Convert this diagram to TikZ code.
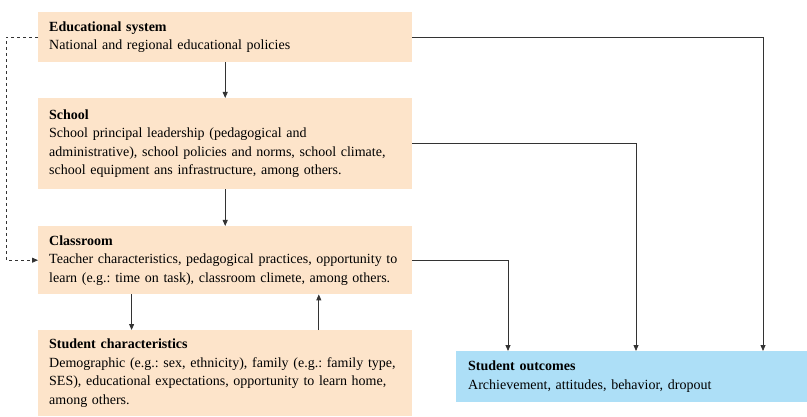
\documentclass[tikz,border=0pt]{standalone}
\usepackage{fontspec}
\setmainfont{Liberation Serif}
\usetikzlibrary{positioning,arrows.meta,calc}
\definecolor{boxorange}{HTML}{FDE4CA}
\definecolor{boxblue}{HTML}{ADDFF7}
\definecolor{linegray}{HTML}{333333}
\frenchspacing
\tikzset{
  factor/.style={fill=boxorange, anchor=north west, text width=352pt, inner xsep=11pt,
    inner ysep=0pt, align=left, font=\fontsize{14}{18.5}\selectfont},
  outcome/.style={factor, fill=boxblue, text width=327pt, inner xsep=12pt},
  link/.style={draw=linegray, line width=0.8pt, -{Triangle[length=6pt,width=5pt]}}
}
\begin{document}
\begin{tikzpicture}[x=1pt,y=-1pt]
	\useasboundingbox (0,0) rectangle (807,417);

	\node[factor, minimum height=50pt] (edu) at (38,12)
	    {\textbf{Educational system}\\National and regional educational policies};
	\node[factor, minimum height=91pt] (school) at (38,98)
	    {\textbf{School}\\School principal leadership (pedagogical and\\administrative), school policies and norms, school climate,\\school equipment ans infrastructure, among others.};
	\node[factor, minimum height=68pt] (class) at (38,226)
	    {\textbf{Classroom}\\Teacher characteristics, pedagogical practices, opportunity to\\learn (e.g.: time on task), classroom climete, among others.};
	\node[factor, minimum height=86pt] (student) at (38,330)
	    {\textbf{Student characteristics}\\Demographic (e.g.: sex, ethnicity), family (e.g.: family type,\\SES), educational expectations, opportunity to learn home,\\among others.};
	\node[outcome, minimum height=51pt] (out) at (456,351)
	    {\textbf{Student outcomes}\\Archievement, attitudes, behavior, dropout};

	% vertical chain
	\draw[link] (edu) -- (school);
	\draw[link] (school) -- (class);
	\draw[link] ($(class.south west)!0.25!(class.south east)$) -- ($(student.north west)!0.25!(student.north east)$);
	\draw[link] ($(student.north west)!0.75!(student.north east)$) -- ($(class.south west)!0.75!(class.south east)$);

	% direct paths to outcomes
	\draw[link] (edu.east) -| ([xshift=307pt]out.north west);
	\draw[link] (school.east) -| ([xshift=180pt]out.north west);
	\draw[link] (class.east) -| ([xshift=52pt]out.north west);

	% indirect
	\draw[link, dash pattern=on 3pt off 3pt] (edu.west) -- ++(-32,0) |- (class.west);
\end{tikzpicture}
\end{document}
